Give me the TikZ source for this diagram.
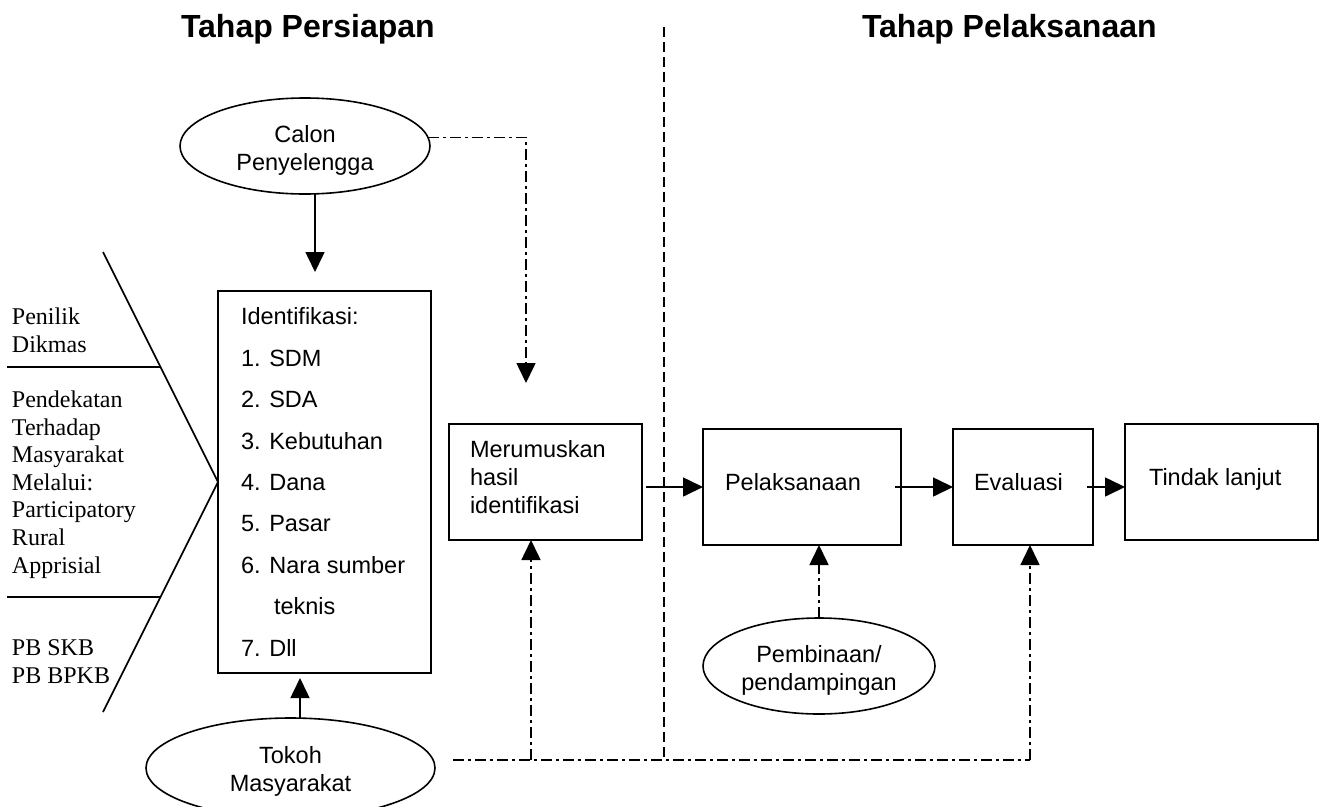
\documentclass[tikz,border=0pt]{standalone}
\usepackage{fontspec}
\setmainfont{Liberation Serif}
\setsansfont{Liberation Sans}
\usetikzlibrary{arrows.meta,shapes.geometric}
\begin{document}
\begin{tikzpicture}[x=1pt,y=-1pt,
  every node/.style={inner sep=0pt, outer sep=0pt},
  ln/.style={line width=1.6pt},
  tip/.style={-{Triangle[length=20pt,width=19pt]}},
  arr/.style={ln, tip},
  dd/.style={line width=1.6pt, dash pattern=on 11pt off 4pt on 3pt off 4pt},
  vdash/.style={line width=1.6pt, dash pattern=on 10pt off 5pt},
  boxs/.style={draw, line width=1.6pt, rectangle},
  ell/.style={draw, line width=1.6pt, ellipse},
  sf/.style={font=\sffamily\fontsize{23.5}{28}\selectfont},
  rm/.style={font=\rmfamily\fontsize{24}{27.6}\selectfont, align=left},
  ttl/.style={font=\sffamily\bfseries\fontsize{32}{38}\selectfont}
]
\useasboundingbox (0,0) rectangle (1324,806);

% titles
\node[ttl, anchor=base west] (t1) at (181,37) {Tahap Persiapan};
\node[ttl, anchor=base west] (t2) at (862,37) {Tahap Pelaksanaan};

% divider
\coordinate (dtop) at (664,27);
\coordinate (dbot) at (664,760);
\draw[vdash] (dtop) -- (dbot);

% boxes
\node[boxs, minimum width=213pt, minimum height=382pt] (ident) at (324.5,482) {};
\node[boxs, minimum width=193pt, minimum height=116pt] (merum) at (545.5,482) {};
\node[boxs, minimum width=198pt, minimum height=116pt] (pel) at (802,487) {};
\node[boxs, minimum width=140pt, minimum height=116pt] (eval) at (1023,487) {};
\node[boxs, minimum width=193pt, minimum height=116pt] (tindak) at (1221.5,482) {};

% ellipses
\node[ell, minimum width=250pt, minimum height=96pt] (calon) at (305,146) {};
\node[ell, minimum width=289pt, minimum height=100pt] (tokoh) at (290.5,768) {};
\node[ell, minimum width=232pt, minimum height=96pt] (pemb) at (819,666) {};

% texts
\node[sf, align=center] (calontx) at (305,150) {Calon\\Penyelengga};
\node[sf, align=center] (tokohtx) at (290.5,771) {Tokoh\\Masyarakat};
\node[sf, align=center] (pembtx) at (819,670) {Pembinaan/\\pendampingan};
\node[sf, align=left, anchor=base west, font=\sffamily\fontsize{23.5}{41.4}\selectfont] (identtx) at (241,656)
  {Identifikasi:\\1. SDM\\2. SDA\\3. Kebutuhan\\4. Dana\\5. Pasar\\6. Nara sumber\\\hspace*{33pt}teknis\\7. Dll};
\node[sf, align=left, anchor=base west] (merumtx) at (470,513) {Merumuskan\\hasil\\identifikasi};
\node[sf, anchor=base west] (peltx) at (725,490) {Pelaksanaan};
\node[sf, anchor=base west] (evaltx) at (974,490) {Evaluasi};
\node[sf, anchor=base west] (tindaktx) at (1149,485) {Tindak lanjut};

% left side
\node[rm, anchor=base west] (penilik) at (12,352) {Penilik\\Dikmas};
\node[rm, anchor=base west] (pendek) at (12,573) {Pendekatan\\Terhadap\\Masyarakat\\Melalui:\\Participatory\\Rural\\Apprisial};
\node[rm, anchor=base west] (pb) at (12,683) {PB SKB\\PB BPKB};
\coordinate (dgtop) at (103,252);
\coordinate (dgbot) at (103,712);
\coordinate (h1a) at (7,367);
\coordinate (h1b) at (160.5,367);
\coordinate (h2a) at (7,597);
\coordinate (h2b) at (160.8,597);
\draw[ln] (dgtop) -- (ident.west) -- (dgbot);
\draw[ln] (h1a) -- (h1b);
\draw[ln] (h2a) -- (h2b);

% connectors
\draw[arr, shorten >=19pt] ([xshift=10pt]calon.south) -- ([xshift=10pt]calon.south |- ident.north);
\draw[arr, shorten >=5pt] ([xshift=9.5pt]tokoh.north) -- ([xshift=9.5pt]tokoh.north |- ident.south);
\draw[dd, tip, shorten >=41pt] (calon.4) -| ([xshift=-19.5pt]merum.north);
\draw[arr] ([xshift=4pt]merum.east |- pel.west) -- (pel.west);
\draw[arr] ([xshift=-6pt]pel.east) -- (eval.west);
\draw[arr] ([xshift=-6pt]eval.east) -- (eval.east -| tindak.west);
\draw[dd, tip] (pemb.north) -- (pemb.north |- pel.south);

\coordinate (hstart) at (453,760);
\coordinate (hmid) at (531,760);
\coordinate (hend) at (1030,760);
\draw[dd] (hstart) -- (hend);
\draw[dd, tip] (hmid) -- (hmid |- merum.south);
\draw[dd, tip] (hend) -- (hend |- eval.south);
\end{tikzpicture}
\end{document}
